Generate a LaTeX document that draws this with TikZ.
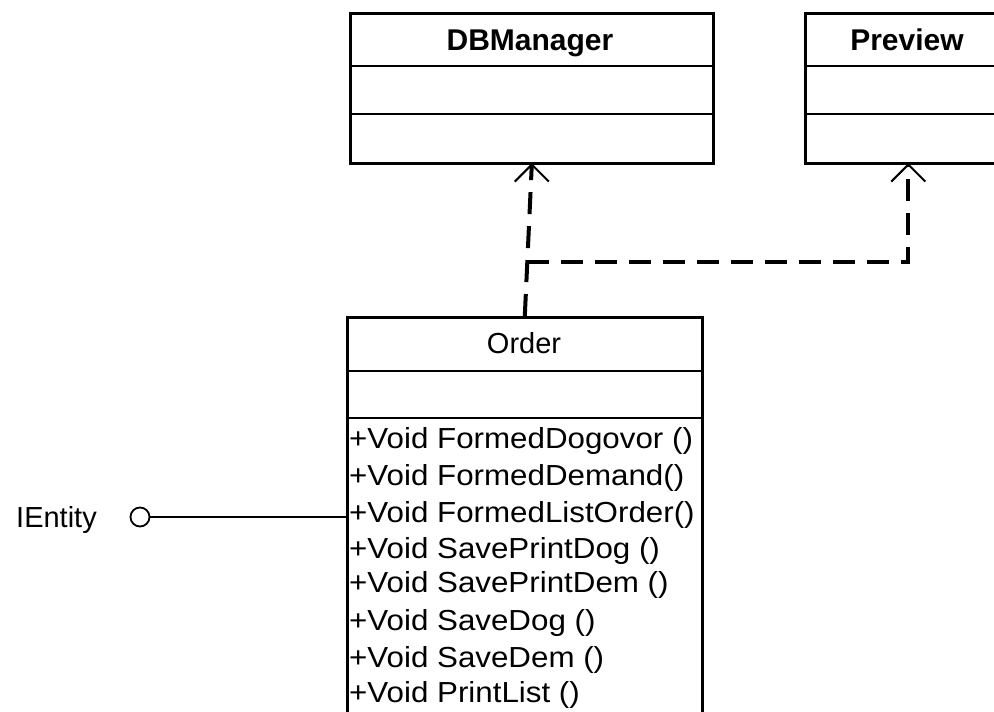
\documentclass[tikz,border=0pt]{standalone}
\usepackage{fontspec}
\setmainfont{Liberation Sans}
\newfontfamily\methfont{Liberation Sans}[FakeStretch=1.08]
\usetikzlibrary{calc}
\begin{document}
\begin{tikzpicture}[x=1pt,y=-1pt,
  box/.style={draw, line width=2.6pt, inner sep=0pt, anchor=north west},
  divider/.style={line width=2.6pt},
  dep/.style={line width=4pt, dash pattern=on 22pt off 12pt},
  tiphead/.style={line width=2pt},
  meth/.style={anchor=base west, inner sep=0pt, font=\methfont\fontsize{29}{34}\selectfont},
  ttl/.style={anchor=base, inner sep=0pt, font=\bfseries\fontsize{30}{36}\selectfont},
  plain/.style={inner sep=0pt, font=\fontsize{29}{34}\selectfont}]
\clip (0,0) rectangle (994,712);
\fill[white] (0,0) rectangle (994,712);
% DBManager
\node[box, minimum width=363pt, minimum height=150pt] (dbm) at (349,12) {};
\draw[divider] (349,66) -- (712,66);
\draw[divider] (349,114) -- (712,114);
\node[ttl] (dbmt) at (530,50) {DBManager};
% Preview
\node[box, minimum width=206pt, minimum height=150pt] (prev) at (804,12) {};
\draw[divider] (804,66) -- (1010,66);
\draw[divider] (804,114) -- (1010,114);
\node[ttl] (prevt) at (907,50) {Preview};
% Order
\node[box, minimum width=355pt, minimum height=420pt] (ord) at (346,316) {};
\draw[divider] (346,371) -- (701,371);
\draw[divider] (346,418) -- (701,418);
\node[plain, anchor=base] (ordt) at (524,353) {Order};
\node[meth] (m1) at (349,448) {+Void FormedDogovor ()};
\node[meth] (m2) at (349,485) {+Void FormedDemand()};
\node[meth] (m3) at (349,522) {+Void FormedListOrder()};
\node[meth] (m4) at (349,558) {+Void SavePrintDog ()};
\node[meth] (m5) at (349,592) {+Void SavePrintDem ()};
\node[meth] (m6) at (349,630) {+Void SaveDog ()};
\node[meth] (m7) at (349,667) {+Void SaveDem ()};
\node[meth] (m8) at (349,702) {+Void PrintList ()};
% dependencies
\coordinate (j) at ($(ord.north)!0.357!(dbm.south)$);
\draw[dep] (ord.north) -- (dbm.south);
\draw[dep] (j) -- (j -| prev.south) -- (prev.south);
\draw[tiphead] ($(dbm.south)+(-17,17)$) -- (dbm.south) -- ++(17,17);
\draw[tiphead] ($(prev.south)+(-17,17)$) -- (prev.south) -- ++(17,17);
% interface
\node[circle, draw, line width=1.8pt, minimum size=19pt, inner sep=0pt] (ie) at (140,517) {};
\draw[line width=1.5pt] (ie.east) -- (ie.east -| ord.west);
\node[plain, anchor=base east] (iel) at (97,527) {IEntity};
\end{tikzpicture}
\end{document}
